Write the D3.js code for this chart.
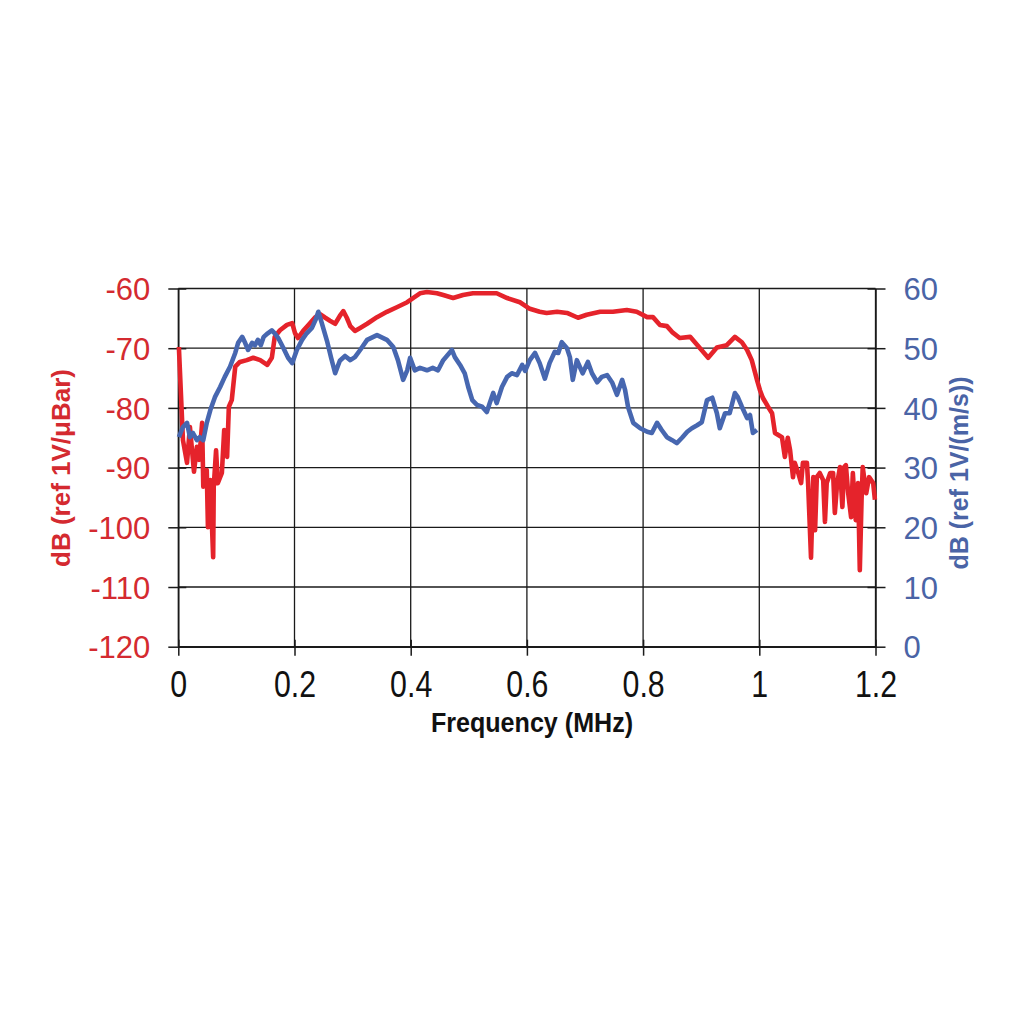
<!DOCTYPE html>
<html><head><meta charset="utf-8">
<script src="https://cdn.jsdelivr.net/npm/d3@7"></script>
<style>body{margin:0;background:#fff}</style>
</head><body>
<svg id="chart" width="1024" height="1024"></svg>
<script>
// ---- data ----
const freqTicks = [0, 0.2, 0.4, 0.6, 0.8, 1, 1.2];
const leftTicks = [-60, -70, -80, -90, -100, -110, -120];
const rightTicks = [60, 50, 40, 30, 20, 10, 0];

const redFreq = [0.001,0.008,0.015,0.020,0.027,0.032,0.036,0.041,0.043,0.049,0.051,0.055,0.060,0.061,0.065,0.068,0.075,0.079,0.084,0.087,0.092,0.098,0.106,0.118,0.129,0.141,0.153,0.161,0.166,0.175,0.187,0.196,0.201,0.206,0.215,0.224,0.236,0.244,0.253,0.261,0.270,0.278,0.284,0.290,0.296,0.304,0.313,0.325,0.342,0.359,0.377,0.394,0.404,0.416,0.428,0.445,0.456,0.473,0.490,0.507,0.531,0.548,0.566,0.588,0.605,0.622,0.634,0.652,0.669,0.688,0.703,0.726,0.748,0.772,0.789,0.807,0.817,0.829,0.841,0.850,0.863,0.881,0.898,0.912,0.927,0.944,0.958,0.970,0.979,0.987,0.996,1.001,1.006,1.015,1.022,1.027,1.032,1.039,1.044,1.049,1.053,1.058,1.061,1.067,1.072,1.075,1.082,1.084,1.089,1.093,1.096,1.099,1.104,1.110,1.113,1.116,1.122,1.127,1.130,1.134,1.139,1.143,1.146,1.149,1.153,1.158,1.161,1.166,1.170,1.173,1.176,1.178,1.184,1.189,1.196,1.199];
const redDb = [-69.8,-85.4,-89.2,-83.2,-90.7,-86.5,-88.7,-82.5,-93.2,-90.4,-100.0,-92.1,-105.0,-93.2,-87.1,-92.6,-90.9,-83.7,-88.2,-79.8,-78.7,-73.1,-72.3,-72.0,-71.6,-72.0,-72.8,-71.6,-68.1,-67.0,-66.1,-65.8,-67.5,-68.3,-67.1,-66.1,-64.8,-64.3,-64.9,-65.4,-65.9,-64.6,-63.8,-64.9,-66.3,-67.1,-66.6,-65.9,-64.8,-63.9,-63.1,-62.3,-61.6,-60.8,-60.6,-60.8,-61.1,-61.6,-61.1,-60.8,-60.8,-60.8,-61.6,-62.3,-63.4,-63.9,-64.1,-63.9,-64.1,-64.9,-64.4,-63.9,-63.9,-63.6,-63.9,-64.8,-64.8,-66.1,-66.3,-67.3,-68.3,-68.1,-70.0,-71.6,-69.9,-69.5,-68.1,-69.0,-70.3,-72.0,-75.3,-77.0,-78.3,-79.8,-80.9,-84.2,-84.5,-84.9,-88.2,-85.0,-87.1,-91.6,-89.2,-90.9,-92.6,-89.2,-89.2,-92.6,-105.1,-91.6,-100.5,-91.6,-90.9,-92.1,-99.1,-92.6,-90.9,-90.9,-97.6,-92.6,-89.9,-96.6,-89.9,-89.6,-94.3,-98.3,-90.9,-98.8,-92.6,-107.2,-95.4,-89.9,-94.3,-91.6,-92.6,-95.4];

const blueFreq = [0.001,0.008,0.015,0.020,0.025,0.032,0.037,0.043,0.049,0.055,0.063,0.072,0.080,0.089,0.098,0.103,0.110,0.115,0.120,0.127,0.132,0.137,0.142,0.147,0.154,0.161,0.166,0.172,0.180,0.189,0.196,0.204,0.213,0.221,0.230,0.236,0.241,0.247,0.256,0.263,0.270,0.278,0.287,0.296,0.304,0.313,0.325,0.342,0.359,0.370,0.378,0.387,0.394,0.399,0.407,0.416,0.428,0.438,0.447,0.456,0.464,0.471,0.476,0.485,0.493,0.499,0.506,0.514,0.523,0.531,0.536,0.542,0.548,0.557,0.566,0.574,0.583,0.592,0.597,0.605,0.614,0.622,0.631,0.639,0.648,0.654,0.660,0.669,0.674,0.679,0.686,0.691,0.696,0.705,0.712,0.721,0.729,0.738,0.747,0.755,0.764,0.769,0.774,0.783,0.795,0.807,0.815,0.824,0.832,0.841,0.850,0.858,0.867,0.876,0.884,0.893,0.901,0.910,0.919,0.927,0.932,0.941,0.949,0.958,0.963,0.970,0.979,0.984,0.989,0.996];
const blueDb = [35.1,36.8,37.5,35.1,35.8,34.6,35.1,34.6,37.5,39.6,41.8,43.5,45.2,46.9,49.2,50.9,51.9,50.9,49.7,50.9,50.5,51.4,50.5,51.9,52.5,53.0,52.5,51.7,50.2,48.4,47.5,49.7,51.4,52.5,53.4,54.7,56.1,54.2,51.2,48.4,45.8,47.9,48.7,48.0,48.5,49.7,51.4,52.2,51.4,50.2,48.0,44.7,46.3,48.4,46.3,46.7,46.3,46.7,46.3,48.0,48.9,49.7,48.5,47.2,45.8,43.5,41.3,40.5,40.2,39.3,40.8,42.5,40.8,43.5,45.2,45.8,45.5,47.2,46.2,48.0,49.2,47.5,44.9,47.5,49.4,49.2,51.0,50.0,48.5,44.7,48.0,46.9,45.8,47.7,45.8,44.3,45.2,45.5,44.2,42.2,44.7,43.0,40.2,37.5,36.6,36.0,35.8,37.5,36.3,35.1,34.6,34.1,35.0,36.0,36.6,37.1,37.6,41.3,41.7,39.1,36.6,39.1,39.1,42.5,41.8,40.2,38.3,38.8,35.8,36.3];

const xTitle = "Frequency (MHz)";
const leftTitle = "dB (ref 1V/\u03BCBar)";
const rightTitle = "dB (ref 1V/(m/s))";

// ---- layout ----
const L = 178.3, R = 875.5, T = 288.5, B = 646.7;
const RED = "#e5232b", BLUE = "#4767b0", RED_TXT = "#d42a30", BLUE_TXT = "#4a64a6";

const svg = d3.select("#chart");
const x = d3.scaleLinear().domain([0, 1.2]).range([L, R]);
const yL = d3.scaleLinear().domain([-120, -60]).range([B, T]);
const yR = d3.scaleLinear().domain([0, 60]).range([B, T]);

// gridlines
const grid = svg.append("g").attr("stroke", "#1a1a1a").attr("stroke-width", 1.3);
grid.selectAll("line.h").data(leftTicks).join("line")
  .attr("x1", L).attr("x2", R).attr("y1", d => yL(d)).attr("y2", d => yL(d));
grid.selectAll("line.v").data(freqTicks).join("line")
  .attr("y1", T).attr("y2", B).attr("x1", d => x(d)).attr("x2", d => x(d));

// axes
const axL = svg.append("g").attr("transform", `translate(${L},0)`)
  .call(d3.axisLeft(yL).tickValues(leftTicks).tickSize(10).tickSizeOuter(0).tickPadding(18).tickFormat(d => d));
const axR = svg.append("g").attr("transform", `translate(${R},0)`)
  .call(d3.axisRight(yR).tickValues(rightTicks).tickSize(10).tickSizeOuter(0).tickPadding(18).tickFormat(d => d));
const axB = svg.append("g").attr("transform", `translate(0,${B})`)
  .call(d3.axisBottom(x).tickValues(freqTicks).tickSize(9).tickSizeOuter(0).tickFormat(d3.format("")));

[axL, axR, axB].forEach(a => {
  a.select(".domain").attr("stroke", "#1a1a1a").attr("stroke-width", 1.5);
  a.selectAll(".tick line").attr("stroke", "#1a1a1a").attr("stroke-width", 1.5);
});
// ticks crossing into plot
axL.selectAll(".tick").append("line").attr("x2", 8).attr("stroke", "#1a1a1a").attr("stroke-width", 1.5);
axR.selectAll(".tick").append("line").attr("x2", -8).attr("stroke", "#1a1a1a").attr("stroke-width", 1.5);
axB.selectAll(".tick").append("line").attr("y2", -7).attr("stroke", "#1a1a1a").attr("stroke-width", 1.5);

axL.selectAll(".tick text").attr("font-family", "Liberation Sans, Arial, sans-serif")
  .attr("font-size", 31).attr("fill", RED_TXT).attr("dy", "0.36em");
axR.selectAll(".tick text").attr("font-family", "Liberation Sans, Arial, sans-serif")
  .attr("font-size", 31).attr("fill", BLUE_TXT).attr("dy", "0.36em");
axB.selectAll(".tick text").remove();
axB.selectAll(".tick").append("text")
  .attr("transform", "translate(0,50) scale(0.82,1)")
  .attr("text-anchor", "middle")
  .attr("font-family", "Liberation Sans, Arial, sans-serif")
  .attr("font-size", 37).attr("fill", "#111")
  .text(d => d3.format("")(d));

// titles
svg.append("text").attr("transform", "translate(532,732) scale(0.93,1)")
  .attr("text-anchor", "middle").attr("font-family", "Liberation Sans, Arial, sans-serif")
  .attr("font-weight", "bold").attr("font-size", 27).attr("fill", "#111").text(xTitle);
svg.append("text").attr("transform", "translate(70,468) rotate(-90)")
  .attr("text-anchor", "middle").attr("font-family", "Liberation Sans, Arial, sans-serif")
  .attr("font-weight", "bold").attr("font-size", 26).attr("fill", RED_TXT).text(leftTitle);
svg.append("text").attr("transform", "translate(968,473) rotate(-90)")
  .attr("text-anchor", "middle").attr("font-family", "Liberation Sans, Arial, sans-serif")
  .attr("font-weight", "bold").attr("font-size", 25).attr("fill", BLUE_TXT).text(rightTitle);

// series
const redData = redFreq.map((f, i) => [f, redDb[i]]);
const blueData = blueFreq.map((f, i) => [f, blueDb[i]]);
svg.append("path").datum(redData)
  .attr("fill", "none").attr("stroke", RED).attr("stroke-width", 4.6).attr("stroke-linejoin", "round")
  .attr("d", d3.line().x(d => x(d[0])).y(d => yL(d[1])));
svg.append("path").datum(blueData)
  .attr("fill", "none").attr("stroke", BLUE).attr("stroke-width", 4.6).attr("stroke-linejoin", "round")
  .attr("d", d3.line().x(d => x(d[0])).y(d => yR(d[1])));
</script>
</body></html>
